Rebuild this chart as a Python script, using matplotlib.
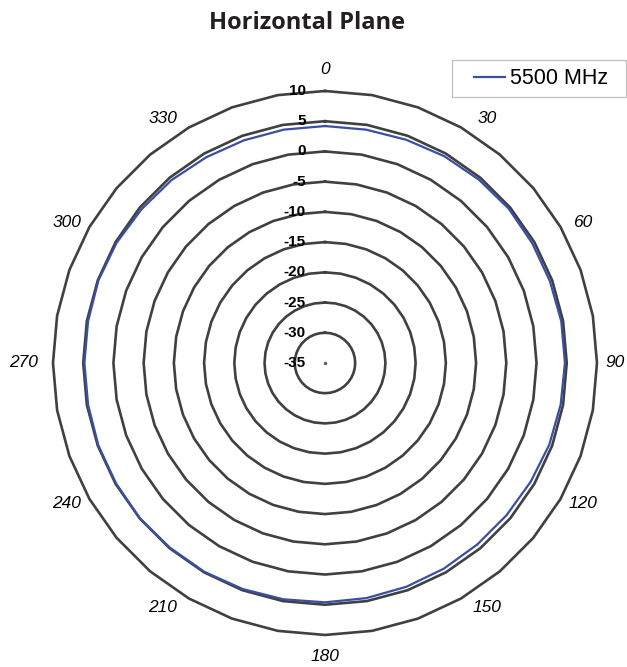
import numpy as np
import matplotlib
matplotlib.use("Agg")
import matplotlib.pyplot as plt
from matplotlib import transforms
from matplotlib.patches import Rectangle

# ---------------------------------------------------------------------------
# Data
# ---------------------------------------------------------------------------
ANGLES_DEG = np.arange(0, 360, 10)
GAIN_5500 = [4.2, 4.2, 4.3, 4.5, 4.6, 4.7, 4.6, 4.6, 4.7, 4.7, 4.6, 4.5,
             4.3, 4.2, 4.2, 4.3, 4.4, 4.5, 4.6, 4.7, 4.8, 4.9, 4.9, 5.0,
             4.9, 4.9, 4.8, 4.8, 4.8, 4.9, 4.8, 4.6, 4.5, 4.3, 4.2, 4.2]
RING_LEVELS = [-30, -25, -20, -15, -10, -5, 0, 5, 10]
RADIAL_LABELS = [-35, -30, -25, -20, -15, -10, -5, 0, 5, 10]
ANGLE_LABELS = np.arange(0, 360, 30)
R_MIN, R_MAX = -35, 10

C_GRID = "#404040"
C_LINE = "#3a4ea3"

plt.rcParams["font.family"] = ["Liberation Sans", "DejaVu Sans"]

fig = plt.figure(figsize=(6.27, 6.67), dpi=100, facecolor="white")
ax = fig.add_axes([0.0845, 0.048, 0.8676, 0.8156], projection="polar")

ax.set_theta_zero_location("N")
ax.set_theta_direction(-1)
ax.set_ylim(R_MIN, R_MAX)
ax.grid(False)
ax.spines["polar"].set_visible(False)
ax.set_xticks([])
ax.set_yticks([])

theta = np.deg2rad(np.append(ANGLES_DEG, ANGLES_DEG[0]))

# polygon gridlines (Excel radar style)
for lvl in RING_LEVELS:
    ax.plot(theta, [lvl] * len(theta), color=C_GRID, lw=1.9, zorder=2,
            clip_on=False, solid_joinstyle="miter")

# centre point
ax.plot([0], [R_MIN], marker="o", ms=1.5, color="#606060", zorder=2)

# data series
gain = np.append(GAIN_5500, GAIN_5500[0])
ax.plot(theta, gain, color=C_LINE, lw=1.6, zorder=3, label="5500 MHz")

# radial value labels
lab_tr = transforms.offset_copy(ax.transData, fig=fig, x=-19, y=0, units="dots")
for v in RADIAL_LABELS:
    ax.text(0, v, f"{v}", transform=lab_tr, ha="right", va="center",
            fontsize=11, fontweight="bold", color="black", zorder=5)

# angle labels (Excel pushes the diagonal labels slightly towards the horizontal)
for a in ANGLE_LABELS:
    rad2 = np.deg2rad(2 * a)
    a_disp = a + 2.9 * np.sin(rad2) + 1.2 * np.sin(2 * rad2)
    if a == 90:
        r_lab = R_MAX + 3.0
    elif a == 270:
        r_lab = R_MAX + 4.9
    else:
        r_lab = R_MAX + 3.6
    ax.text(np.deg2rad(a_disp), r_lab, f"{a}", ha="center", va="center",
            fontsize=12.5, fontstyle="italic", color="black")

fig.text(0.49, 0.966, "Horizontal Plane", ha="center", va="center",
         fontsize=17, fontweight="bold", color="#231f20",
         family=["Open Sans", "DejaVu Sans"])

# legend (frame drawn separately to match the Excel box proportions)
leg = fig.legend(loc="center left", bbox_to_anchor=(474 / 627, 1 - 79 / 667),
                 fontsize=15.5, frameon=False, handlelength=1.45,
                 handletextpad=0.2, borderpad=0, borderaxespad=0)
fig.patches.append(Rectangle((452 / 627, 1 - 97 / 667), 174 / 627, 37 / 667,
                             transform=fig.transFigure, fill=False,
                             ec="#bfbfbf", lw=0.9))

fig.savefig("out.png", dpi=100, facecolor="white")
